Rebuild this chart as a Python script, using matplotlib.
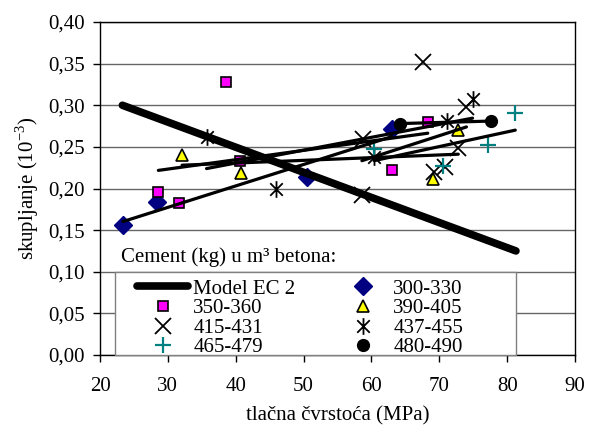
import matplotlib
matplotlib.use("Agg")
import matplotlib.pyplot as plt
import numpy as np
from matplotlib.patches import Rectangle
from matplotlib.path import Path
from matplotlib.ticker import FuncFormatter, MultipleLocator

plt.rcParams["font.family"] = ["Liberation Serif", "DejaVu Serif"]
plt.rcParams["mathtext.fontset"] = "custom"
plt.rcParams["mathtext.rm"] = "Liberation Serif"

# Model EC 2 (shrinkage vs. strength)
ec2_x = [23.3, 81.3]
ec2_y = [0.300, 0.125]

# measured points, grouped by cement content (kg per m3)
x_300 = [23.4, 28.4, 50.5, 63.0]
y_300 = [0.156, 0.184, 0.214, 0.272]
x_350 = [28.6, 31.7, 38.5, 40.6, 63.0, 68.3]
y_350 = [0.196, 0.183, 0.328, 0.233, 0.222, 0.280]
x_390 = [32.1, 40.8, 69.0, 72.8]
y_390 = [0.240, 0.219, 0.211, 0.270]
x_415 = [58.6, 58.8, 67.6, 69.2, 70.8, 72.8, 74.0]
y_415 = [0.192, 0.259, 0.352, 0.220, 0.226, 0.249, 0.298]
x_437 = [35.7, 46.0, 60.4, 71.1, 74.9]
y_437 = [0.262, 0.200, 0.238, 0.281, 0.308]
x_465 = [60.4, 70.6, 77.2, 81.2]
y_465 = [0.248, 0.227, 0.252, 0.291]
x_480 = [64.2, 77.6]
y_480 = [0.278, 0.281]

# Excel-like asterisk: X with a vertical bar
asterisk = Path([(0, -1), (0, 1), (-0.75, -0.75), (0.75, 0.75), (-0.75, 0.75), (0.75, -0.75)],
                [Path.MOVETO, Path.LINETO] * 3)

series = [
    ("300-330", x_300, y_300, dict(marker="D", ms=9.5, mfc="#000080", mec="#000080")),
    ("350-360", x_350, y_350, dict(marker="s", ms=7.5, mfc="#ff00ff", mec="black", mew=1.2)),
    ("390-405", x_390, y_390, dict(marker="^", ms=8.5, mfc="#ffff00", mec="black", mew=1.2)),
    ("415-431", x_415, y_415, dict(marker="x", ms=11, mec="black", mew=1.3)),
    ("437-455", x_437, y_437, dict(marker=asterisk, ms=12, mec="black", mew=1.3)),
    ("465-479", x_465, y_465, dict(marker="+", ms=11, mec="#008080", mew=1.6)),
    ("480-490", x_480, y_480, dict(marker="o", ms=8.5, mfc="black", mec="black")),
]

fig = plt.figure(figsize=(5.99, 4.29), dpi=100)
ax = fig.add_axes([100 / 599, 74 / 429, 475 / 599, 333 / 429])

handles = {}
for name, xs, ys, st in series:
    h, = ax.plot(xs, ys, linestyle="none", zorder=3, **st)
    handles[name] = h
    # linear trendline over the series' own x range
    k, b = np.polyfit(xs, ys, 1)
    xr = np.array([min(xs), max(xs)])
    ax.plot(xr, k * xr + b, color="black", lw=2.3, zorder=4, solid_capstyle="round")

ec2, = ax.plot(ec2_x, ec2_y, color="black", lw=5.5, zorder=5, solid_capstyle="round")

ax.set_xlim(20, 90)
ax.set_ylim(0, 0.40)
ax.xaxis.set_major_locator(MultipleLocator(10))
ax.yaxis.set_major_locator(MultipleLocator(0.05))
ax.yaxis.set_major_formatter(FuncFormatter(lambda v, p: f"{v:.2f}".replace(".", ",")))
ax.grid(axis="y", color="#666666", lw=1.0)
ax.set_axisbelow(True)
for s in ax.spines.values():
    s.set_linewidth(1.0)
ax.tick_params(direction="out", length=5, width=1, labelsize=15)
ax.tick_params(axis="x", pad=11)
ax.tick_params(axis="y", pad=6)

ax.set_xlabel("tlačna čvrstoća (MPa)", fontsize=15, labelpad=7)
ax.set_ylabel(r"skupljanje (10$^{\mathregular{-3}}$)", fontsize=15, labelpad=5)

ax.text(0.044, 0.294, "Cement (kg) u m\u00b3 betona:", transform=ax.transAxes,
        fontsize=15, va="center", ha="left", zorder=6)

# legend box drawn separately so the entries can sit left with empty space on the right
ax.add_patch(Rectangle((0.0316, 0.0), 0.844, 0.249, transform=ax.transAxes,
                       facecolor="white", edgecolor="#808080", lw=1.0, zorder=6, clip_on=False))

order = ["350-360", "415-431", "465-479", "300-330", "390-405", "437-455", "480-490"]
leg = ax.legend([ec2] + [handles[n] for n in order], ["Model EC 2"] + order,
                ncol=2, loc="upper left", bbox_to_anchor=(0.078, 0.228), borderaxespad=0,
                fontsize=15, labelspacing=0.0, handlelength=2.45, handletextpad=0.25,
                columnspacing=2.0, borderpad=0, frameon=False)
leg.set_zorder(7)

fig.savefig("out.png", dpi=100)
